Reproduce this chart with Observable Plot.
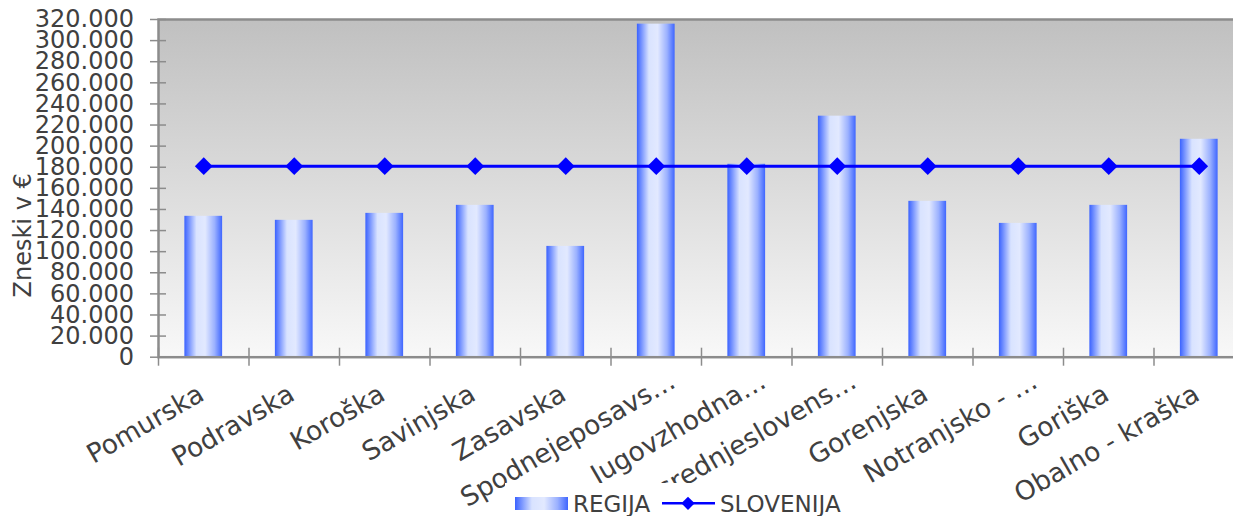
<!DOCTYPE html>
<html>
<head>
<meta charset="utf-8">
<script src="https://cdn.jsdelivr.net/npm/d3@7"></script>
<script src="https://cdn.jsdelivr.net/npm/@observablehq/plot@0.6"></script>
<style>
  html, body { margin: 0; padding: 0; background: #fff; overflow: hidden; width: 1233px; height: 516px; }
  #chart { position: absolute; left: 0; top: 0; }
  #legend { position: absolute; left: 505px; top: 483px; width: 345px; height: 33px; background: #fff; }
</style>
</head>
<body>
<div id="chart"></div>
<div id="legend"></div>
<script>
const categories = ["Pomurska", "Podravska", "Koroška", "Savinjska", "Zasavska", "Spodnejeposavs…", "Jugovzhodna…", "Osrednjeslovens…", "Gorenjska", "Notranjsko - …", "Goriška", "Obalno - kraška"];
const regija = [133500, 129700, 136300, 143900, 105000, 315600, 182800, 228400, 147700, 126800, 143900, 206500];
const slovenija = [181000, 181000, 181000, 181000, 181000, 181000, 181000, 181000, 181000, 181000, 181000, 181000];
const seriesNames = ["REGIJA", "SLOVENIJA"];
const yTicks = [0, 20000, 40000, 60000, 80000, 100000, 120000, 140000, 160000, 180000, 200000, 220000, 240000, 260000, 280000, 300000, 320000];
const yTitle = "Zneski v €";

const rows = categories.map((c, i) => ({cat: c, regija: regija[i], slovenija: slovenija[i]}));
const fmt = d3.formatLocale({decimal: ",", thousands: ".", grouping: [3], currency: ["", " €"]}).format(",");
const isTrunc = d => d.endsWith("…");

const W = 1233, H = 516;
const textColor = "#404040";
const axisColor = "#8c8c8c";
const barStops = [["0%", "#3a62ff"], ["12%", "#7592ff"], ["32%", "#d9e3ff"], ["55%", "#e2e9ff"], ["80%", "#9bb1ff"], ["100%", "#3f66ff"]];
const labelAngle = -30;
const labelSize = 26.5;

const plot = Plot.plot({
  width: W,
  height: H,
  marginLeft: 158,
  marginRight: -11,
  marginTop: 19,
  marginBottom: 159.3,
  style: {fontFamily: "DejaVu Sans, sans-serif", fontSize: "24px", color: textColor, background: "transparent", overflow: "hidden"},
  x: {domain: categories, paddingInner: 0.583, paddingOuter: 0.2915, round: false, axis: null},
  y: {domain: [0, 320000], axis: null},
  marks: [
    Plot.frame({fill: "url(#bgGrad)", stroke: null}),
    Plot.barY(rows, {x: "cat", y: "regija", fill: "url(#barGrad)"}),
    Plot.lineY(rows, {x: "cat", y: "slovenija", stroke: "#0000ff", strokeWidth: 3}),
    Plot.dot(rows, {x: "cat", y: "slovenija", symbol: "diamond2", r: 8, fill: "#0000ff", stroke: null}),
    Plot.frame({stroke: axisColor, strokeWidth: 2.5}),
    Plot.axisY({ticks: yTicks, tickSize: 16, dx: 8, tickFormat: () => "", label: null, stroke: axisColor, strokeWidth: 1.5}),
    Plot.axisY({ticks: yTicks, tickSize: 0, tickPadding: 24.5, tickFormat: fmt, label: null, fill: textColor, fontSize: 24}),
    Plot.axisX({tickSize: 18, dy: -9, dx: -45.25, tickFormat: () => "", label: null, stroke: axisColor, strokeWidth: 1.5}),
    Plot.text(categories.filter(d => !isTrunc(d)), {x: d => d, frameAnchor: "bottom", dy: 42, dx: 2, rotate: labelAngle, textAnchor: "end", lineAnchor: "bottom", fontSize: labelSize, fill: textColor}),
    Plot.text(categories.filter(isTrunc), {x: d => d, frameAnchor: "bottom", dy: 29, dx: 21, rotate: labelAngle, textAnchor: "end", lineAnchor: "bottom", fontSize: labelSize, fill: textColor}),
    Plot.text([yTitle], {frameAnchor: "left", text: d => d, dx: -135, dy: 47, rotate: -90, textAnchor: "middle", lineAnchor: "middle", fontSize: 24, fill: textColor})
  ]
});

const svg = d3.select(plot);
const defs = svg.insert("defs", ":first-child");
const bg = defs.append("linearGradient").attr("id", "bgGrad").attr("x1", 0).attr("y1", 0).attr("x2", 0).attr("y2", 1);
bg.append("stop").attr("offset", "0%").attr("stop-color", "#c0c0c0");
bg.append("stop").attr("offset", "100%").attr("stop-color", "#f8f8f8");
const bgr = defs.append("linearGradient").attr("id", "barGrad").attr("x1", 0).attr("y1", 0).attr("x2", 1).attr("y2", 0);
barStops.forEach(([o, c]) => bgr.append("stop").attr("offset", o).attr("stop-color", c));
document.getElementById("chart").appendChild(plot);

// Legend (positions relative to legend box at left 505, top 483)
const lsvg = d3.select("#legend").append("svg").attr("width", 345).attr("height", 33)
  .style("font-family", "DejaVu Sans, sans-serif").style("font-size", "23px");
const ld = lsvg.append("defs").append("linearGradient").attr("id", "barGradL").attr("x1", 0).attr("y1", 0).attr("x2", 1).attr("y2", 0);
barStops.forEach(([o, c]) => ld.append("stop").attr("offset", o).attr("stop-color", c));
lsvg.append("rect").attr("x", 10).attr("y", 14).attr("width", 53).attr("height", 13).attr("fill", "url(#barGradL)");
lsvg.append("text").attr("x", 68).attr("y", 28.7).attr("fill", textColor).text(seriesNames[0]);
lsvg.append("line").attr("x1", 157).attr("x2", 210).attr("y1", 20.3).attr("y2", 20.3).attr("stroke", "#0000ff").attr("stroke-width", 2.5);
lsvg.append("path").attr("transform", "translate(183,20.3)").attr("d", d3.symbol(d3.symbolDiamond2, 6 * 6 * Math.PI)()).attr("fill", "#0000ff");
lsvg.append("text").attr("x", 215).attr("y", 28.7).attr("fill", textColor).text(seriesNames[1]);
</script>
</body>
</html>
